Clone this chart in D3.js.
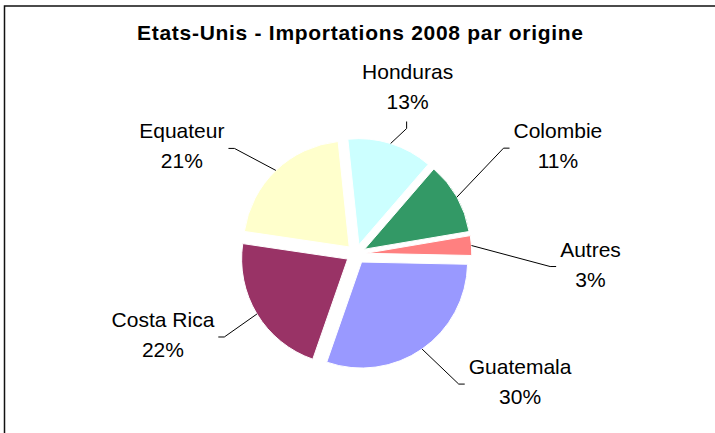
<!DOCTYPE html>
<html>
<head>
<meta charset="utf-8">
<script src="https://cdn.jsdelivr.net/npm/d3@7"></script>
<style>
  body { margin: 0; background: #fff; }
  svg text { font-family: "Liberation Sans", Arial, sans-serif; fill: #000; }
</style>
</head>
<body>
<div id="chart"></div>
<script>
const countries = ["Honduras", "Colombie", "Autres", "Guatemala", "Costa Rica", "Equateur"];
const shares = [13, 11, 3, 30, 22, 21];
const colors = ["#ccffff", "#339966", "#ff8080", "#9999ff", "#993366", "#ffffcc"];

// where each label sits, relative to the outer edge of its slice (layout only)
const labelNudge = [[17, -55], [101, -49], [119, 21], [98, 35], [-94, 23], [-94, -22]];
const labelAttach = ["below", "left", "left", "left", "right", "right"];

const width = 715, height = 433;
const cx = 356, cy = 254;
const radius = 106;
const explode = 9.8;
const startDeg = -6;

renderPie();

function renderPie() {
  var svg = d3.select("#chart").append("svg")
    .attr("width", width)
    .attr("height", height);

  // chart area frame (bottom and right run off the picture)
  svg.append("rect")
    .attr("x", 4.5)
    .attr("y", 6)
    .attr("width", width)
    .attr("height", height)
    .style("fill", "none")
    .style("stroke", "#111")
    .style("stroke-width", 1.5);

  svg.append("text")
    .attr("x", 360)
    .attr("y", 40)
    .attr("text-anchor", "middle")
    .attr("textLength", 446)
    .attr("lengthAdjust", "spacing")
    .style("font-size", "21px")
    .style("font-weight", "bold")
    .text("Etats-Unis - Importations 2008 par origine");

  var start = startDeg * Math.PI / 180;
  var pie = d3.pie()
    .sort(null)
    .value(d => d)
    .startAngle(start)
    .endAngle(start + 2 * Math.PI);

  var arc = d3.arc().innerRadius(0).outerRadius(radius);
  var slices = pie(shares);

  var g = svg.append("g")
    .attr("transform", "translate(" + cx + "," + cy + ")");

  g.selectAll("path.slice")
    .data(slices)
    .enter()
    .append("path")
    .attr("class", "slice")
    .attr("d", arc)
    .attr("transform", d => {
      var mid = (d.startAngle + d.endAngle) / 2;
      return "translate(" + explode * Math.sin(mid) + "," + (-explode * Math.cos(mid)) + ")";
    })
    .style("fill", (d, i) => colors[i])
    .style("stroke", "#fff")
    .style("stroke-width", 1);

  slices.forEach((d, i) => renderLabel(g, d, i));
}

function renderLabel(g, d, i) {
  var mid = (d.startAngle + d.endAngle) / 2;
  var ax = (explode + radius) * Math.sin(mid);
  var ay = -(explode + radius) * Math.cos(mid);
  var lx = ax + labelNudge[i][0];
  var ly = ay + labelNudge[i][1];

  var label = g.append("text")
    .attr("text-anchor", "middle")
    .style("font-size", "21px");
  label.append("tspan").attr("x", lx).attr("y", ly - 10).text(countries[i]);
  label.append("tspan").attr("x", lx).attr("y", ly + 20).text(shares[i] + "%");

  var half = d3.max(label.selectAll("tspan").nodes(), n => n.getComputedTextLength()) / 2;
  var pts;
  if (labelAttach[i] == "left")
    pts = [[ax, ay], [lx - half - 10, ly], [lx - half - 4, ly]];
  else if (labelAttach[i] == "right")
    pts = [[ax, ay], [lx + half + 10, ly], [lx + half + 4, ly]];
  else
    pts = [[ax, ay], [lx - 1, ly + 40], [lx - 1, ly + 33]];

  g.append("path")
    .attr("d", d3.line()(pts))
    .style("fill", "none")
    .style("stroke", "#000")
    .style("stroke-width", 1);
}
</script>
</body>
</html>
